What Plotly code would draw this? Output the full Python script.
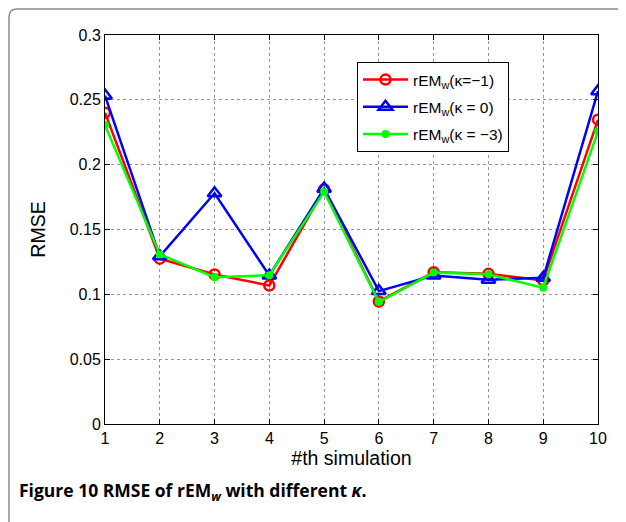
import plotly.graph_objects as go

sims = [1, 2, 3, 4, 5, 6, 7, 8, 9, 10]
red_k_m1 = [0.240, 0.1275, 0.1153, 0.1068, 0.181, 0.0945, 0.117, 0.1158, 0.1108, 0.2347]
blue_k_0 = [0.2533, 0.1293, 0.178, 0.1145, 0.1815, 0.1025, 0.1145, 0.1112, 0.1127, 0.2567]
green_k_m3 = [0.2305, 0.1308, 0.1132, 0.1148, 0.179, 0.094, 0.1168, 0.1155, 0.105, 0.2257]
names = ["rEM<sub>w</sub>(κ=−1)", "rEM<sub>w</sub>(κ = 0)", "rEM<sub>w</sub>(κ = −3)"]
yticks = [0, 0.05, 0.1, 0.15, 0.2, 0.25, 0.3]
ytick_text = ["0", "0.05", "0.1", "0.15", "0.2", "0.25", "0.3"]

fig = go.Figure()
fig.add_trace(go.Scatter(x=sims, y=red_k_m1, name=names[0], mode="lines+markers", legendgroup="a",
                         line=dict(color="#ff0000", width=2.5),
                         marker=dict(symbol="circle-open", size=10, color="#ff0000", line=dict(width=2.5))))
fig.add_trace(go.Scatter(x=sims, y=blue_k_0, name=names[1], mode="lines+markers", legendgroup="b",
                         line=dict(color="#0000ff", width=2.5),
                         marker=dict(symbol="triangle-up-open", size=12, color="#0000ff", line=dict(width=2.5))))
fig.add_trace(go.Scatter(x=sims, y=green_k_m3, name=names[2], mode="lines+markers", legendgroup="c",
                         line=dict(color="#00ff00", width=2.5),
                         marker=dict(symbol="circle", size=8, color="#00ff00")))

OFF = 8  # page body margin
W, H = 626 - OFF, 522 - OFF
# reference pixel positions of plot area
PX0, PX1, PY0, PY1 = 105, 598, 35, 424
L, R, T, B = PX0 - OFF, 626 - PX1, PY0 - OFF, 522 - PY1
pw, ph = PX1 - PX0, PY1 - PY0

def px(x):
    return (x - PX0) / pw

def py(y):
    return (PY1 - y) / ph

FONT = "Liberation Sans, Arial"
axis_common = dict(showline=True, linecolor="black", linewidth=1, mirror="ticks",
                   ticks="inside", ticklen=5, tickcolor="black",
                   showgrid=True, gridcolor="#999999", griddash="dot", gridwidth=1,
                   zeroline=False, tickfont=dict(family=FONT, size=16, color="black"))

fig.update_layout(
    width=W, height=H,
    margin=dict(l=L, r=R, t=T, b=B),
    paper_bgcolor="white", plot_bgcolor="white",
    showlegend=True,
    legend=dict(x=px(357), y=py(62), xanchor="left", yanchor="top",
                bordercolor="black", borderwidth=1, bgcolor="white",
                font=dict(family=FONT, size=15.5, color="black"),
                itemwidth=45, tracegroupgap=4),
    xaxis=dict(range=[1, 10], tickvals=sims, title=dict(text="#th simulation", standoff=5,
               font=dict(family=FONT, size=19.5, color="black")), **axis_common),
    yaxis=dict(range=[0, 0.3], tickvals=yticks, ticktext=ytick_text,
               title=dict(text="RMSE", standoff=18, font=dict(family=FONT, size=19.5, color="black")),
               **axis_common),
)

# frame border (gray, rounded top-left corner)
r = 8
fx, fy = 9, 9
path = (f"M {px(fx)},{py(530)} L {px(fx)},{py(fy + r)} "
        f"Q {px(fx)},{py(fy)} {px(fx + r)},{py(fy)} L {px(626)},{py(fy)}")
fig.add_shape(type="path", path=path, xref="paper", yref="paper",
              line=dict(color="#8c8c8c", width=1.5), layer="above")

fig.add_annotation(x=px(17), y=py(491), xref="paper", yref="paper", xanchor="left", yanchor="middle",
                   showarrow=False,
                   text="<b>Figure 10</b> <b>RMSE of rEM<sub><i>w</i></sub> with different <i>κ</i>.</b>",
                   font=dict(family="Open Sans, Noto Sans", size=17.5, color="black"))

fig.write_html("out.html")
